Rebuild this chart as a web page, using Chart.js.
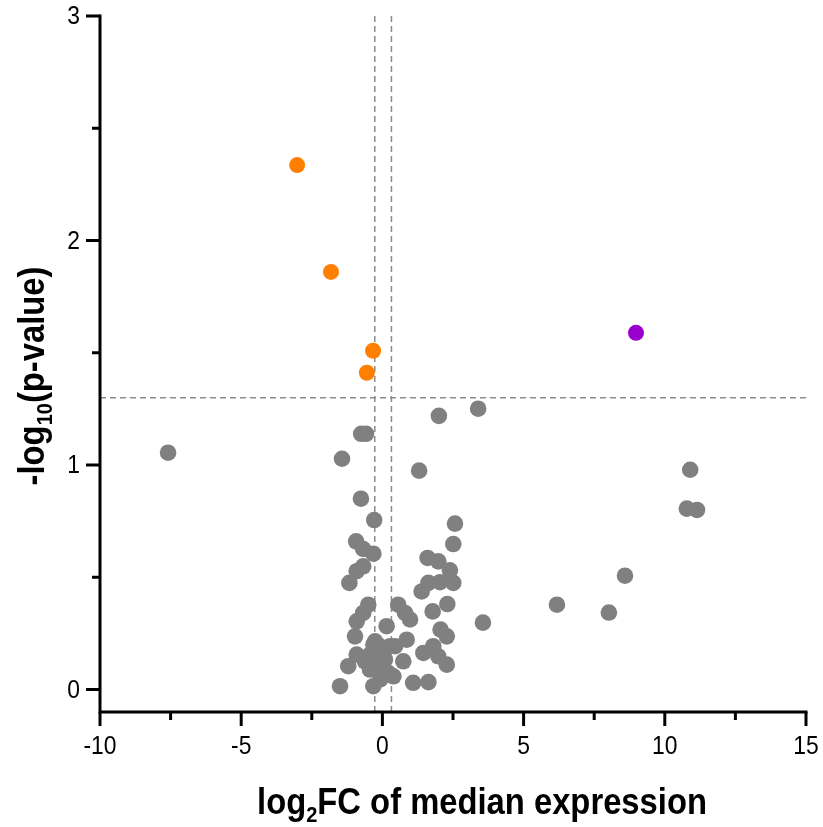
<!DOCTYPE html>
<html>
<head>
<meta charset="utf-8">
<script src="https://cdn.jsdelivr.net/npm/chart.js@4"></script>
<style>
  html, body { margin: 0; padding: 0; background: #fff; }
  #wrap { width: 823px; height: 827px; }
</style>
</head>
<body>
<div id="wrap"><canvas id="volcano" width="823" height="827"></canvas></div>
<script>
// --- Data: log2 fold change vs -log10(p) ---
const nsFC = [-7.59, 2.00, 3.39, -0.75, -0.58, -1.43, 1.30, -0.76, -0.29, 2.57, 2.51, 10.90, 10.78, 11.14,
  8.59, 6.18, 8.02, 3.56, -0.93, -0.68, -0.32, -0.68, -0.91, -1.17, 1.60, 1.98, 2.39, 1.63, 2.04, 2.51,
  1.39, 2.30, 1.78, 2.06, 2.28, 1.45, 1.80, 1.98, 2.28, 1.09, 1.63, -0.50, -0.68, -0.91, -0.97, 0.15,
  0.56, 0.80, 0.98, -0.26, 0.45, 0.86, -0.91, -0.44, 0.03, -1.21, -0.44, 0.03, 0.74, 0.39, -0.32, -1.50,
  -0.08, -0.20, 0.27, -0.09, 0.09, -0.62, 0.21, -0.32];
const nsP = [1.055, 1.219, 1.251, 1.139, 1.139, 1.028, 0.975, 0.850, 0.755, 0.739, 0.648, 0.979, 0.806, 0.800,
  0.507, 0.378, 0.343, 0.298, 0.660, 0.626, 0.605, 0.549, 0.527, 0.475, 0.586, 0.571, 0.531, 0.475, 0.478, 0.475,
  0.437, 0.381, 0.348, 0.267, 0.237, 0.163, 0.193, 0.148, 0.111, 0.030, 0.033, 0.378, 0.341, 0.304, 0.237, 0.282,
  0.378, 0.341, 0.312, 0.215, 0.193, 0.222, 0.156, 0.156, 0.163, 0.104, 0.089, 0.097, 0.126, 0.059, 0.015, 0.015,
  0.045, 0.126, 0.193, 0.193, 0.134, 0.126, 0.074, 0.200];
const downFC = [-3.02, -1.82, -0.33, -0.55];
const downP = [2.336, 1.860, 1.509, 1.411];
const upFC = [8.98];
const upP = [1.589];

const xTicks = [-10, -5, 0, 5, 10, 15];
const xMinor = [-7.5, -2.5, 2.5, 7.5, 12.5];
const yTicks = [0, 1, 2, 3];
const yMinor = [0.5, 1.5, 2.5];

// cut-offs for the dashed guide lines
const pCut = 1.3;
const fcCuts = [-0.27, 0.32];

const FAMILY = '"Liberation Sans", Arial, sans-serif';
const toPoints = (xs, ys) => xs.map((x, i) => ({ x: x, y: ys[i] }));

// text squeezed horizontally, like the narrow export fonts
function squeezed(ctx, parts, x, y, align, sx) {
  let w = 0;
  parts.forEach(p => { ctx.font = p.font; w += ctx.measureText(p.t).width; });
  const start = align === 'center' ? -w / 2 : align === 'right' ? -w : 0;
  ctx.save();
  ctx.translate(x, y);
  ctx.scale(sx, 1);
  ctx.textAlign = 'left';
  let cur = start;
  parts.forEach(p => {
    ctx.font = p.font;
    ctx.fillText(p.t, cur, p.dy || 0);
    cur += ctx.measureText(p.t).width;
  });
  ctx.restore();
}

// axis lines, tick marks, labels, guide lines and titles
const decor = {
  id: 'decor',
  beforeDatasetsDraw(chart) {
    const { ctx, chartArea: a, scales: { x, y } } = chart;
    ctx.save();
    ctx.strokeStyle = '#8c8c8c';
    ctx.lineWidth = 1.5;
    ctx.setLineDash([6, 4]);
    const hy = y.getPixelForValue(pCut);
    ctx.beginPath();
    ctx.moveTo(a.left, hy);
    ctx.lineTo(a.right, hy);
    fcCuts.forEach(v => {
      const px = x.getPixelForValue(v);
      ctx.moveTo(px, a.top);
      ctx.lineTo(px, a.bottom);
    });
    ctx.stroke();
    ctx.restore();
  },
  afterDraw(chart) {
    const { ctx, chartArea: a, scales: { x, y } } = chart;
    ctx.save();
    ctx.strokeStyle = '#000';
    ctx.lineWidth = 3;
    ctx.lineCap = 'square';
    ctx.beginPath();
    ctx.moveTo(a.left, a.top);
    ctx.lineTo(a.left, a.bottom);
    ctx.lineTo(a.right, a.bottom);
    ctx.stroke();
    ctx.lineCap = 'butt';
    ctx.beginPath();
    yTicks.forEach(v => { const p = y.getPixelForValue(v); ctx.moveTo(a.left, p); ctx.lineTo(a.left - 14, p); });
    yMinor.forEach(v => { const p = y.getPixelForValue(v); ctx.moveTo(a.left, p); ctx.lineTo(a.left - 8, p); });
    xTicks.forEach(v => { const p = x.getPixelForValue(v); ctx.moveTo(p, a.bottom); ctx.lineTo(p, a.bottom + 14); });
    xMinor.forEach(v => { const p = x.getPixelForValue(v); ctx.moveTo(p, a.bottom); ctx.lineTo(p, a.bottom + 8); });
    ctx.stroke();

    ctx.fillStyle = '#000';
    const tickFont = '26px ' + FAMILY;
    ctx.textBaseline = 'middle';
    yTicks.forEach(v => squeezed(ctx, [{ t: String(v), font: tickFont }], a.left - 20, y.getPixelForValue(v) + 1, 'right', 0.88));
    xTicks.forEach(v => squeezed(ctx, [{ t: String(v), font: tickFont }], x.getPixelForValue(v), a.bottom + 35, 'center', 0.88));

    // titles with subscripts
    ctx.textBaseline = 'alphabetic';
    const big = 'bold 36px ' + FAMILY;
    const small = 'bold 22px ' + FAMILY;
    squeezed(ctx, [{ t: 'log', font: big }, { t: '2', font: small, dy: 8 }, { t: 'FC of median expression', font: big }],
      482, 814, 'center', 0.91);
    ctx.save();
    ctx.translate(44, 376);
    ctx.rotate(-Math.PI / 2);
    squeezed(ctx, [{ t: '-log', font: big }, { t: '10', font: small, dy: 8 }, { t: '(p-value)', font: big }], 0, 0, 'center', 0.91);
    ctx.restore();
    ctx.restore();
  }
};

new Chart(document.getElementById('volcano'), {
  type: 'scatter',
  data: {
    datasets: [
      { label: 'NS', data: toPoints(nsFC, nsP), backgroundColor: '#808080', pointRadius: 8.3, borderWidth: 0 },
      { label: 'Down', data: toPoints(downFC, downP), backgroundColor: '#ff8000', pointRadius: 8, borderWidth: 0 },
      { label: 'Up', data: toPoints(upFC, upP), backgroundColor: '#9900cc', pointRadius: 8, borderWidth: 0 }
    ]
  },
  options: {
    responsive: false,
    animation: false,
    events: [],
    layout: { padding: { top: 16, right: 17, left: 0, bottom: 0 } },
    plugins: { legend: { display: false }, tooltip: { enabled: false } },
    scales: {
      x: {
        type: 'linear', min: -10, max: 15,
        afterBuildTicks: s => { s.ticks = xTicks.map(v => ({ value: v })); },
        afterFit: s => { s.height = 115; },
        grid: { display: false }, border: { display: false },
        ticks: { display: false }
      },
      y: {
        type: 'linear', min: -0.1, max: 3,
        afterBuildTicks: s => { s.ticks = yTicks.map(v => ({ value: v })); },
        afterFit: s => { s.width = 100; },
        grid: { display: false }, border: { display: false },
        ticks: { display: false }
      }
    }
  },
  plugins: [decor]
});
</script>
</body>
</html>
